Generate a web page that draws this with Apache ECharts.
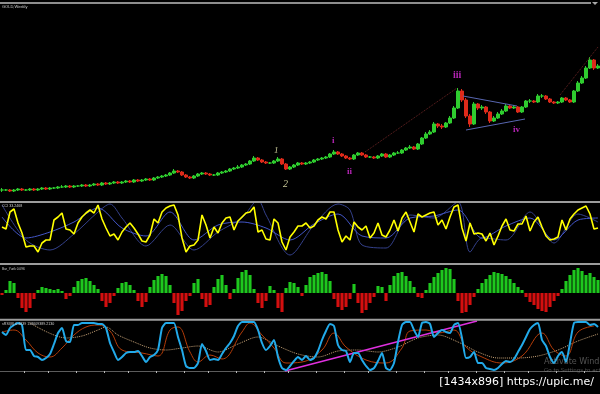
<!DOCTYPE html>
<html><head><meta charset="utf-8">
<script src="https://cdn.jsdelivr.net/npm/echarts@6/dist/echarts.min.js"></script>
<style>html,body{margin:0;padding:0;background:#000;}#c{width:600px;height:394px;}</style>
</head><body><div id="c"></div>
<script>
// ---- price (weekly candles) ----
const OPEN0 = 10;
const CLOSE = [10,10,9,10,11,10,10,11,10,11, 12,11,12,12,13,13,14,13,14,14, 15,14,15,16,15,17,16,17,18,17,
  18,19,18,20,19,20,21,20,22,23, 24,25,27,29,28,25,23,22,24,26, 27,26,25,25,27,28,29,31,32,33,
  35,36,39,42,40,38,37,37,39,41, 36,31,33,35,37,36,37,38,40,41, 42,43,46,48,46,44,42,41,45,47,
  45,43,43,42,44,46,43,45,47,47, 50,52,53,51,56,62,66,68,76,74, 73,77,82,92,109,100,84,76,96,92,
  93,88,79,82,86,89,94,92,93,88, 93,99,99,98,104,104,101,98,97,98, 102,100,98,109,117,122,132,140,132,134];
const HIGH = [12,11,11,11,12,12,11,12,12,12, 13,13,13,13,14,15,15,15,15,15, 16,16,16,17,17,18,18,18,19,19,
  19,20,20,21,21,21,22,22,23,24, 25,26,28,31,30,29,26,24,25,27, 28,28,27,26,28,29,30,32,33,35,
  36,37,40,44,43,41,39,38,40,43, 42,37,34,36,38,38,38,39,41,42, 43,44,47,50,49,47,45,43,46,48,
  48,46,44,44,45,47,47,46,48,49, 51,53,55,54,57,63,68,70,78,77, 76,78,84,94,112,111,102,86,98,97,
  95,94,89,84,88,91,96,95,95,94, 94,100,101,100,106,106,105,102,99,99, 103,103,101,110,119,124,134,143,141,136];
const LOW = [8,9,8,8,9,9,9,9,9,9, 10,10,10,11,11,12,12,12,12,13, 13,13,13,14,14,14,15,15,16,16,
  16,17,17,17,18,18,19,19,19,21, 22,23,24,26,27,24,22,21,21,23, 25,25,24,24,24,26,27,28,30,31,
  32,34,35,38,39,37,36,36,36,38, 35,30,30,32,34,35,35,36,37,39, 40,41,42,45,45,43,41,40,40,44,
  44,42,42,41,41,43,42,42,44,46, 46,49,51,50,50,55,61,65,67,72, 71,72,76,81,91,98,82,73,75,90,
  90,86,77,78,81,85,88,91,91,87, 87,92,97,97,97,102,100,97,96,96, 97,99,97,97,108,116,121,131,130,131];
// trend lines on the price panel [week index, price]
const TRI_UPPER = [[115.25,104],[128.75,94]];
const TRI_LOWER = [[116,70],[130.75,81]];
const CHANNEL_A = [[90.75,48],[113.75,112]];
const CHANNEL_B = [[139.5,105],[149,153]];

// ---- CCI panel ----
const CCI = [36,34,51,54,40,30,16,17,17,11, 20,23,23,43,46,50,34,33,29,40, 46,50,53,50,58,44,35,27,29,23,
  31,36,40,35,29,22,21,28,44,40, 51,55,57,58,48,25,11,17,18,23, 48,38,25,36,30,40,45,46,33,42,
  46,50,51,56,31,33,24,23,44,40, 21,13,26,31,37,37,40,35,37,43, 46,44,51,51,33,21,27,23,41,36,
  33,37,25,30,40,28,26,33,43,32, 45,51,41,31,49,46,48,50,51,38, 43,34,46,56,58,35,22,40,29,30,
  29,22,30,18,27,37,44,33,32,39, 39,47,32,41,46,36,27,23,24,26, 43,33,44,49,53,55,57,49,34,35];
const CCI_FAST = [[0,46],[6,25],[12,31],[18,41],[24,55],[30,35],[36,27],[42,51],[48,23],[54,38],[60,41],[66,35],[72,23],
  [78,39],[84,49],[90,27],[96,25],[102,45],[108,47],[114,53],[120,25],[126,37],[132,45],[138,23],[144,43],[149,45]];
const CCI_SLOW = [[0,58],[6,23],[12,13],[18,29],[24,51],[27,59],[30,45],[36,17],[42,38],[48,13],[54,31],[60,45],[64,63],
  [66,48],[72,8],[78,38],[84,59],[87,53],[90,18],[96,15],[102,48],[108,45],[114,61],[117,11],[120,25],[126,23],[132,51],
  [138,20],[144,49],[149,41]];

// ---- histogram panel ----
const BAR = [-2,3,12,10,-5,-15,-19,-15,-6,3, 6,5,4,3,4,2,-6,-3,6,12, 14,15,12,8,4,-8,-14,-10,-3,5,
  10,11,8,3,-8,-14,-9,6,13,17, 19,17,8,-10,-22,-18,-8,-3,10,14, -6,-14,-12,6,14,18,8,-6,4,15,
  21,23,18,4,-10,-15,-8,7,3,-15, -19,5,11,10,6,-3,8,16,18,20, 21,19,12,-6,-14,-17,-14,-6,9,-10,
  -20,-17,-10,-4,7,6,-8,8,17,20, 21,17,12,6,-4,-5,3,10,16,20, 23,25,24,14,-8,-20,-19,-12,-4,4,
  10,14,18,21,20,19,17,14,10,6, 3,-4,-9,-12,-16,-18,-19,-14,-8,-3, 4,12,18,23,25,22,18,20,16,13];

// ---- RSI panel ----
const RSI = [39,36,43,46,48,46,21,21,15,14, 11,13,17,27,38,43,30,29,46,46, 48,48,48,48,47,47,43,28,19,11,
  14,18,19,19,20,15,9,14,16,21, 43,48,48,48,34,21,5,3,3,8, 27,20,11,12,11,17,23,28,35,45,
  49,49,49,49,41,28,21,25,31,14, 3,1,5,10,14,11,15,11,13,20, 31,40,47,45,26,21,20,9,18,18,
  11,5,1,3,10,18,3,1,8,29, 46,49,49,41,34,48,49,47,34,38, 41,39,38,46,48,33,13,14,19,8,
  8,3,2,1,3,7,10,9,12,19, 26,34,42,46,48,31,25,14,8,15, 19,9,28,48,49,49,49,46,47,44];
const RSI_SIGNAL = [[0,39],[3,41],[6,31],[9,18],[12,14],[15,23],[18,36],[21,44],[24,46],[27,40],[30,21],[35,18],[39,15],
  [42,41],[44,44],[47,19],[49,9],[52,16],[55,12],[60,39],[62,48],[65,36],[68,23],[71,8],[75,9],[80,21],[83,38],[86,24],
  [91,11],[96,8],[100,23],[102,40],[106,41],[109,38],[113,41],[116,24],[120,14],[125,8],[130,15],[135,38],[138,21],
  [141,15],[144,39],[148,45]];
const RSI_SLOW = [[7,48],[16,33],[20,35],[24,41],[26,44],[29,36],[33,29],[37,23],[41,21],[45,23],[49,25],[54,19],[59,27],
  [64,34],[69,25],[74,17],[79,14],[84,20],[89,21],[94,19],[99,24],[104,33],[109,36],[114,29],[119,19],[124,13],[129,13],
  [134,15],[139,21],[144,30],[149,37]];
const RSI_TREND = [[70.75,0],[118.75,50]];

const WEEKS = CLOSE.map((_, i) => String(i));
const candles = CLOSE.map((c, i) => [i ? CLOSE[i - 1] : OPEN0, c, LOW[i], HIGH[i]]);

const chart = echarts.init(document.getElementById('c'), null, {renderer: 'canvas'});
const hidCat = g => ({gridIndex: g, type: 'category', data: WEEKS, boundaryGap: true, show: false});
const hidVal = g => ({gridIndex: g, type: 'value', min: -0.5, max: 149.5, show: false});
const step = 20 / 3;
const tl = (data, color, width, type, xi, yi) => ({type: 'line', xAxisIndex: xi, yAxisIndex: yi, data, symbol: 'none',
  silent: true, lineStyle: {color, width, type}, z: 3});

chart.setOption({
  backgroundColor: '#000',
  animation: false,
  grid: [
    {left: 0, right: 0, top: 5, height: 192},
    {left: 0, right: 0, top: 203, height: 60},
    {left: 0, right: 0, top: 265, height: 54},
    {left: 0, right: 0, top: 321, height: 51}
  ],
  xAxis: [
    hidCat(0), hidCat(1), hidCat(2),
    {gridIndex: 3, type: 'category', data: WEEKS, boundaryGap: true,
     axisLine: {show: true, lineStyle: {color: '#5c5c5c', width: 1}},
     axisTick: {show: true, length: 2, lineStyle: {color: '#b8b8b8'},
       interval: function (idx) { const r = (idx - 5.75) / step; return Math.abs(r - Math.round(r)) * step < 0.5; }},
     axisLabel: {show: false}, splitLine: {show: false}},
    hidVal(0), hidVal(1), hidVal(2), hidVal(3)
  ],
  yAxis: [
    {gridIndex: 0, type: 'value', min: 3, max: 195, show: false},
    {gridIndex: 1, type: 'value', min: 0, max: 60, show: false},
    {gridIndex: 2, type: 'value', min: -26, max: 28, show: false},
    {gridIndex: 3, type: 'value', min: -1, max: 50, show: false}
  ],
  series: [
    {type: 'candlestick', xAxisIndex: 0, yAxisIndex: 0, data: candles, barWidth: 2.6,
     itemStyle: {color: '#2fcc2f', color0: '#de2a1a', borderColor: '#2fcc2f', borderColor0: '#de2a1a', borderWidth: 1}},
    tl(TRI_UPPER, '#5866b0', 1, 'solid', 4, 0),
    tl(TRI_LOWER, '#5866b0', 1, 'solid', 4, 0),
    tl(CHANNEL_A, '#6a2424', 1, 'dotted', 4, 0),
    tl(CHANNEL_B, '#6a2424', 1, 'dotted', 4, 0),
    {type: 'line', xAxisIndex: 5, yAxisIndex: 1, data: CCI_SLOW, symbol: 'none', smooth: 0.3, lineStyle: {color: '#34408a', width: 1}},
    {type: 'line', xAxisIndex: 5, yAxisIndex: 1, data: CCI_FAST, symbol: 'none', smooth: 0.3, lineStyle: {color: '#4356c8', width: 1}},
    {type: 'line', xAxisIndex: 1, yAxisIndex: 1, data: CCI, symbol: 'none', lineStyle: {color: '#ffff00', width: 1.6}, z: 4},
    {type: 'bar', xAxisIndex: 2, yAxisIndex: 2, barWidth: '78%',
     data: BAR.map(v => ({value: v, itemStyle: {color: v >= 0 ? '#1ec81e' : '#d40f0f'}}))},
    {type: 'line', xAxisIndex: 7, yAxisIndex: 3, data: RSI_SLOW, symbol: 'none', smooth: 0.3, lineStyle: {color: '#c8a478', width: 1, type: 'dotted'}},
    {type: 'line', xAxisIndex: 7, yAxisIndex: 3, data: RSI_SIGNAL, symbol: 'none', smooth: 0.4, lineStyle: {color: '#b43c08', width: 1}},
    {type: 'line', xAxisIndex: 3, yAxisIndex: 3, data: RSI, symbol: 'none', smooth: 0.2, lineStyle: {color: '#22aaea', width: 2}, z: 4},
    tl(RSI_TREND, '#e030e0', 1.5, 'solid', 7, 3)
  ],
  graphic: [
    {type: 'rect', z: 100, shape: {x: 0, y: 2, width: 591, height: 2}, style: {fill: '#8e8e8e'}},
    {type: 'polygon', z: 100, shape: {points: [[592, 2], [598, 2], [595, 5]]}, style: {fill: '#a8a8a8'}},
    {type: 'rect', z: 100, shape: {x: 0, y: 201, width: 600, height: 2}, style: {fill: '#9c9c9c'}},
    {type: 'rect', z: 100, shape: {x: 0, y: 263, width: 600, height: 2}, style: {fill: '#9c9c9c'}},
    {type: 'rect', z: 100, shape: {x: 0, y: 318.7, width: 600, height: 2}, style: {fill: '#9c9c9c'}},
    {type: 'text', z: 100, x: 2, y: 5, style: {text: 'GOLD,Weekly', fill: '#cfcfcf', font: '4px "Liberation Sans"', textVerticalAlign: 'top'}},
    {type: 'text', z: 100, x: 2, y: 203.5, style: {text: 'CCI 33.2468', fill: '#cfcfcf', font: '3.6px "Liberation Sans"', textVerticalAlign: 'top'}},
    {type: 'text', z: 100, x: 2, y: 267.5, style: {text: 'Bar_Yurik 0.096', fill: '#cfcfcf', font: '3.2px "Liberation Sans"', textVerticalAlign: 'top'}},
    {type: 'text', z: 100, x: 2, y: 321.5, style: {text: 'sRSI(8) 0.4839 158609389.2130', fill: '#cfcfcf', font: '3.6px "Liberation Sans"', textVerticalAlign: 'top'}},
    {type: 'text', z: 100, x: 453, y: 80, style: {text: 'iii', fill: '#b424b4', font: 'bold 10px "Liberation Serif"', textVerticalAlign: 'bottom'}},
    {type: 'text', z: 100, x: 513, y: 134, style: {text: 'iv', fill: '#b424b4', font: 'bold 9px "Liberation Serif"', textVerticalAlign: 'bottom'}},
    {type: 'text', z: 100, x: 332, y: 145, style: {text: 'i', fill: '#b424b4', font: 'bold 9px "Liberation Serif"', textVerticalAlign: 'bottom'}},
    {type: 'text', z: 100, x: 347, y: 176, style: {text: 'ii', fill: '#b424b4', font: 'bold 9px "Liberation Serif"', textVerticalAlign: 'bottom'}},
    {type: 'text', z: 100, x: 274, y: 155, style: {text: '1', fill: '#c8c898', font: 'italic 9px "Liberation Serif"', textVerticalAlign: 'bottom'}},
    {type: 'text', z: 100, x: 283, y: 189, style: {text: '2', fill: '#c8c898', font: 'italic 10px "Liberation Serif"', textVerticalAlign: 'bottom'}},
    {type: 'text', z: 100, x: 544, y: 361.5, style: {text: 'Activate Windows', fill: 'rgba(150,150,150,0.55)', font: '8px "DejaVu Sans"', textVerticalAlign: 'middle'}},
    {type: 'text', z: 100, x: 544, y: 371, style: {text: 'Go to Settings to activate Windows.', fill: 'rgba(150,150,150,0.5)', font: '5.5px "DejaVu Sans"', textVerticalAlign: 'middle'}},
    {type: 'text', z: 101, x: 594, y: 382, style: {text: '[1434x896] https://upic.me/', fill: '#ffffff', font: '11px "DejaVu Sans"',
      textAlign: 'right', textVerticalAlign: 'middle', shadowBlur: 2, shadowColor: '#000'}}
  ]
});
</script></body></html>
